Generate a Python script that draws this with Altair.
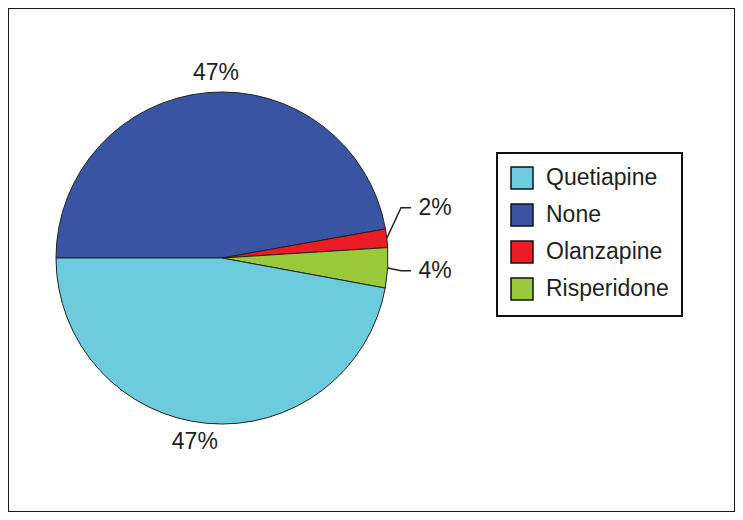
import math
import numpy as np
import pandas as pd
import altair as alt

# ---- data (slices listed clockwise starting at 9 o'clock) ----
drugs = ["None", "Olanzapine", "Risperidone", "Quetiapine"]
shares = [47.2, 1.8, 3.9, 47.1]
labels = ["47%", "2%", "4%", "47%"]
legend_order = ["Quetiapine", "None", "Olanzapine", "Risperidone"]
legend_colors = ["#6ccbdc", "#3a54a4", "#ec1c24", "#9bc93c"]

# ---- layout constants ----
W, H = 727, 504
CX, CY, R = 214, 250, 166
START = 1.5 * math.pi
FONT = "Liberation Sans"
INK = "#231f20"

pie_df = pd.DataFrame({"drug": drugs, "share": shares, "ord": list(range(len(drugs)))})

total = float(sum(shares))
sh = np.array(shares, dtype=float)
cum = np.cumsum(sh)
mid_ang = START + 2 * np.pi * (cum - sh / 2) / total

label_rows = []
leader_rows = []
nudge = {"Olanzapine": -25.0}
for d, s, lab, a in zip(drugs, shares, labels, mid_ang):
    if s > 10:
        aa = a + math.radians(3.2)
        r = 185.5
        label_rows.append({"drug": d, "label": lab,
                           "lx": CX + r * math.sin(aa), "ly": CY - r * math.cos(aa)})
    else:
        ly = CY - 213 * math.cos(a) + nudge.get(d, 0.0)
        label_rows.append({"drug": d, "label": lab, "lx": CX + R + 47, "ly": ly})
        pts = [(CX + R * math.sin(a), CY - R * math.cos(a)),
               (CX + R + 13, ly), (CX + R + 23, ly)]
        for i, (px, py) in enumerate(pts):
            leader_rows.append({"drug": d, "pt": i, "px": px, "py": py})

label_df = pd.DataFrame(label_rows)
leader_df = pd.DataFrame(leader_rows)

pie = alt.Chart(pie_df).mark_arc(
    x=CX, y=CY, outerRadius=R, stroke="#222222", strokeWidth=1
).encode(
    theta=alt.Theta("share:Q", stack=True,
                    scale=alt.Scale(range=[START, START + 2 * math.pi])),
    color=alt.Color(
        "drug:N",
        scale=alt.Scale(domain=legend_order, range=legend_colors),
        legend=alt.Legend(
            title=None, orient="none", legendX=489, legendY=145,
            padding=13, strokeColor="#111111", fillColor="white",
            symbolType="square", symbolSize=484, symbolStrokeColor="#111111",
            symbolStrokeWidth=1.5, symbolOpacity=1,
            labelFont=FONT, labelFontSize=23, labelColor=INK,
            labelOffset=12, rowPadding=9, labelLimit=300,
        ),
    ),
    order=alt.Order("ord:Q"),
)

leaders = alt.Chart(leader_df).mark_line(color="#222222", strokeWidth=1.5).encode(
    x=alt.X("px:Q", scale=None, axis=None),
    y=alt.Y("py:Q", scale=None, axis=None),
    detail="drug:N",
    order="pt:Q",
)

text = alt.Chart(label_df).mark_text(
    font=FONT, fontSize=23, color=INK, align="center", baseline="middle"
).encode(
    x=alt.X("lx:Q", scale=None, axis=None),
    y=alt.Y("ly:Q", scale=None, axis=None),
    text="label:N",
)

chart = alt.layer(pie, leaders, text).properties(
    width=W, height=H, autosize="none", padding=0, background="white"
).configure_view(stroke="#1a1a1a", strokeWidth=2).configure_legend(strokeWidth=2)

chart.save("out.html", embed_options={"renderer": "svg", "actions": False})
